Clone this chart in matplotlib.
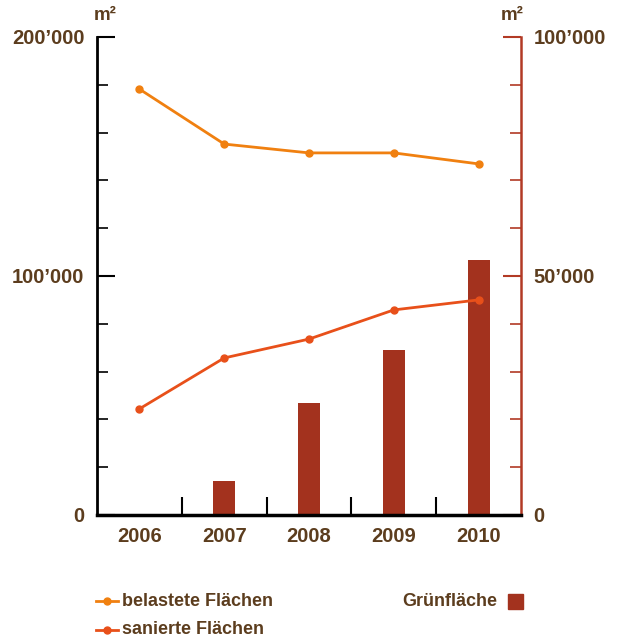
import matplotlib.pyplot as plt
from matplotlib.lines import Line2D
from matplotlib.patches import Rectangle
from matplotlib.ticker import FuncFormatter, MultipleLocator

years = ["2006", "2007", "2008", "2009", "2010"]
belastete = [178200, 155200, 151500, 151500, 146900]
sanierte = [44400, 65700, 73600, 85800, 90000]
gruenflaeche = [300, 7100, 23400, 34500, 53300]

brown = "#5C3D1E"
orange = "#F08010"
redorange = "#E8501A"
barred = "#A3321E"
axisred = "#B23A25"

plt.rcParams['font.family'] = ['Liberation Sans', 'DejaVu Sans']
plt.rcParams['font.weight'] = 'bold'

fig = plt.figure(figsize=(6.18, 6.41), dpi=100)
ax = fig.add_axes([0.157, 0.1966, 0.686, 0.7457])
ax2 = ax.twinx()

x = list(range(len(years)))
ax2.bar(x, gruenflaeche, width=0.26, color=barred, zorder=2)
ax.plot(x, belastete, color=orange, lw=2, marker='o', ms=5, zorder=5)
ax.plot(x, sanierte, color=redorange, lw=2, marker='o', ms=5, zorder=5)
ax.set_zorder(ax2.get_zorder() + 1)
ax.patch.set_visible(False)

fmt = FuncFormatter(lambda v, p: "0" if v == 0 else f"{int(v):,}".replace(",", "\u2019"))

ax.set_xlim(-0.5, 4.5)
ax.set_ylim(0, 200000)
ax2.set_ylim(0, 100000)

ax.yaxis.set_major_locator(MultipleLocator(100000))
ax.yaxis.set_minor_locator(MultipleLocator(20000))
ax.yaxis.set_major_formatter(fmt)
ax2.yaxis.set_major_locator(MultipleLocator(50000))
ax2.yaxis.set_minor_locator(MultipleLocator(10000))
ax2.yaxis.set_major_formatter(fmt)

ax.set_xticks(x)
ax.set_xticklabels(years)
ax.set_xticks([0.5, 1.5, 2.5, 3.5], minor=True)
ax.tick_params(axis='x', which='major', length=0, pad=9, labelsize=14.5, labelcolor=brown)
ax.tick_params(axis='x', which='minor', direction='in', length=13, width=1.5, color='black')

ax.tick_params(axis='y', which='major', direction='in', length=13, width=1.5,
               labelsize=14.5, labelcolor=brown, pad=9, color='black')
ax.tick_params(axis='y', which='minor', direction='in', length=8, width=1.2, color='black')
ax2.tick_params(axis='y', which='major', direction='in', length=13, width=1.5,
                labelsize=14.5, labelcolor=brown, pad=9, color=axisred)
ax2.tick_params(axis='y', which='minor', direction='in', length=8, width=1.2, color=axisred)

for a in (ax, ax2):
    a.spines['top'].set_visible(False)
ax.spines['right'].set_visible(False)
ax.spines['left'].set_linewidth(2)
ax.spines['bottom'].set_linewidth(2.5)
ax2.spines['left'].set_visible(False)
ax2.spines['bottom'].set_visible(False)
ax2.spines['right'].set_color(axisred)
ax2.spines['right'].set_linewidth(1.8)

fig.text(105 / 618, 1 - 15 / 641, "m²", color=brown, fontsize=13.5, ha='center', va='center')
fig.text(512 / 618, 1 - 15 / 641, "m²", color=brown, fontsize=13.5, ha='center', va='center')

# legend
W, H = 618, 641
for yy, col, lab in [(601, orange, "belastete Flächen"), (630, redorange, "sanierte Flächen")]:
    fig.add_artist(Line2D([96 / W, 118 / W], [1 - yy / H] * 2, color=col, lw=2))
    fig.add_artist(Line2D([107 / W], [1 - yy / H], color=col, marker='o', ms=5))
    fig.text(122 / W, 1 - yy / H, lab, color=brown, fontsize=13, ha='left', va='center')
fig.text(497 / W, 1 - 601 / H, "Grünfläche", color=brown, fontsize=13, ha='right', va='center')
fig.add_artist(Rectangle((508 / W, 1 - 609 / H), 15 / W, 15 / H, color=barred))

fig.savefig("out.png", dpi=100)
